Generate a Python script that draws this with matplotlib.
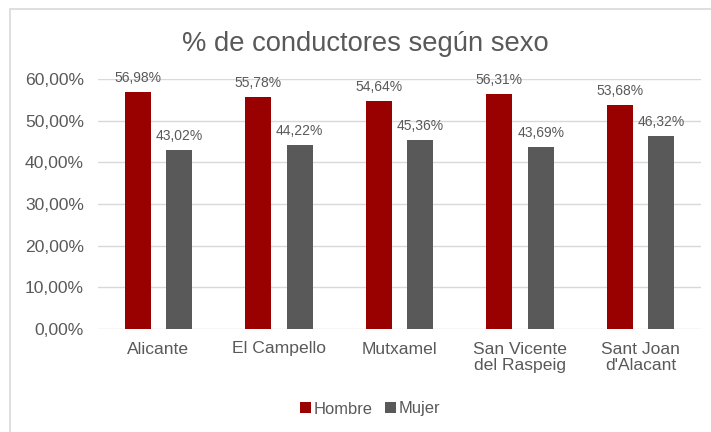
import numpy as np
import matplotlib
matplotlib.use('Agg')
import matplotlib.pyplot as plt
from matplotlib.patches import Rectangle
from matplotlib.ticker import FuncFormatter

categories = ['Alicante', 'El Campello', 'Mutxamel', 'San Vicente\ndel Raspeig', "Sant Joan\nd'Alacant"]
hombre = [56.98, 55.78, 54.64, 56.31, 53.68]
mujer = [43.02, 44.22, 45.36, 43.69, 46.32]
yticks = [0, 10, 20, 30, 40, 50, 60]

red = '#990000'
grey = '#595959'
txt = '#595959'

plt.rcParams['font.family'] = ['Liberation Sans', 'DejaVu Sans']

fig = plt.figure(figsize=(7.11, 4.32), dpi=100)
ax = fig.add_axes([98/711, 1-329/432, 603/711, 250/432])

x = np.arange(len(categories))
w = 0.215
off = 0.172
b1 = ax.bar(x - off, hombre, w, color=red, label='Hombre', zorder=3)
b2 = ax.bar(x + off, mujer, w, color=grey, label='Mujer', zorder=3)

def fmt(v):
    return ('%.2f' % v).replace('.', ',') + '%'

for bars, vals in ((b1, hombre), (b2, mujer)):
    for r, v in zip(bars, vals):
        ax.annotate(fmt(v), (r.get_x() + r.get_width()/2, v), xytext=(0, 5),
                    textcoords='offset points', ha='center', va='bottom',
                    fontsize=10, color=txt)

ax.set_xlim(-0.5, len(categories) - 0.5)
ax.set_ylim(0, 60)
ax.set_yticks(yticks)
ax.yaxis.set_major_formatter(FuncFormatter(lambda v, p: fmt(v)))
ax.set_xticks(x)
ax.set_xticklabels(categories, fontsize=12.6, color=txt, linespacing=1.15)
ax.tick_params(axis='y', labelsize=12.6, colors=txt, length=0, pad=10)
ax.tick_params(axis='x', length=0, pad=9)
ax.grid(axis='y', color='#d9d9d9', linewidth=1, zorder=0)
for s in ax.spines.values():
    s.set_visible(False)

fig.text(365/711, 1-44/432, '% de conductores según sexo', ha='center', va='center',
         fontsize=19.7, color=txt)

fig.legend(handles=[b1, b2], loc='center', bbox_to_anchor=(370/711, 1-409/432), ncol=2,
           frameon=False, fontsize=11.9, labelcolor=txt, handlelength=0.65, handleheight=0.65,
           handletextpad=0.15, columnspacing=0.8)

fig.patches.append(Rectangle((9.5/711, -0.1), 1.2, 1 - 8.5/432 + 0.1, transform=fig.transFigure,
                             fill=False, edgecolor='#d9d9d9', linewidth=1.2))

fig.savefig('out.png', dpi=100)
